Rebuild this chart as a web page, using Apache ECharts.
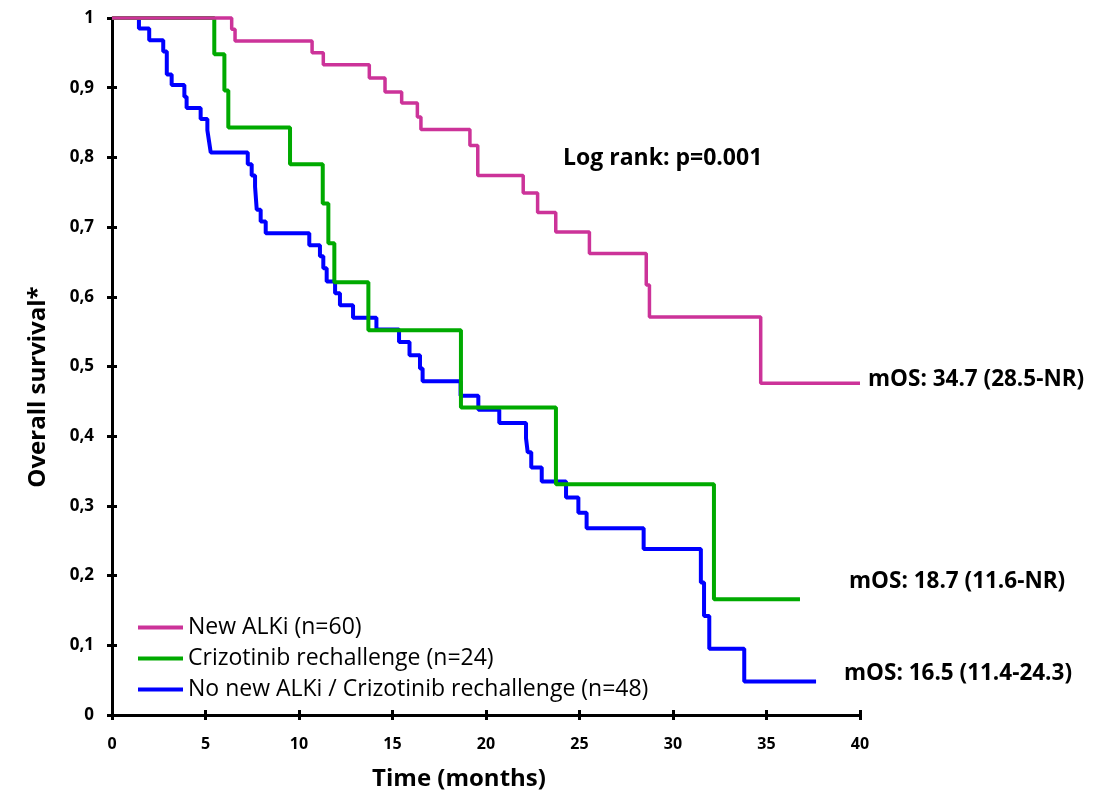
<!DOCTYPE html>
<html>
<head>
<meta charset="utf-8">
<script src="https://cdn.jsdelivr.net/npm/echarts@6/dist/echarts.min.js"></script>
<style>
html, body { margin: 0; padding: 0; background: #fff; }
#km_chart { width: 1094px; height: 795px; }
</style>
</head>
<body>
<div id="km_chart"></div>
<script>
// series names (legend order)
const seriesNames = [
  'New ALKi (n=60)',
  'Crizotinib rechallenge (n=24)',
  'No new ALKi / Crizotinib rechallenge (n=48)'
]

// New ALKi: month of each drop and survival after it
const newAlkiTime = [0, 6.40, 6.58, 10.70, 11.30, 13.76, 14.60, 15.49, 16.33, 16.52, 19.14, 19.56, 21.99, 22.76, 23.73, 25.53, 28.57, 28.74, 34.69, 40]
const newAlkiSurv = [1, 0.984, 0.967, 0.950, 0.933, 0.914, 0.894, 0.878, 0.858, 0.840, 0.817, 0.774, 0.749, 0.721, 0.693, 0.662, 0.617, 0.571, 0.476, 0.476]

// Crizotinib rechallenge
const crizoTime = [0, 5.47, 6.01, 6.22, 9.52, 11.27, 11.57, 11.89, 13.71, 18.66, 23.74, 32.19, 36.79]
const crizoSurv = [1, 0.948, 0.896, 0.843, 0.790, 0.734, 0.677, 0.621, 0.552, 0.441, 0.331, 0.166, 0.166]

// No new ALKi / Crizotinib rechallenge
const noNewTime = [0, 1.44, 1.99, 2.74, 2.93, 3.19, 3.87, 3.99, 4.74, 5.10, 5.19, 5.28, 7.26, 7.47, 7.65, 7.74, 7.95, 8.22, 10.55, 11.12,
  11.30, 11.48, 11.93, 12.19, 12.89, 14.14, 15.35, 15.91, 16.47, 16.61, 18.64, 19.59, 20.71, 22.14, 22.23, 22.42, 22.98, 24.28, 24.94, 25.38,
  28.43, 31.49, 31.66, 31.94, 33.81, 37.65]
const noNewSurv = [1, 0.985, 0.968, 0.952, 0.919, 0.904, 0.887, 0.871, 0.855, 0.839, 0.823, 0.807, 0.790, 0.774, 0.758, 0.725, 0.708, 0.691, 0.674, 0.658,
  0.641, 0.622, 0.605, 0.588, 0.570, 0.553, 0.535, 0.516, 0.497, 0.479, 0.458, 0.438, 0.419, 0.397, 0.377, 0.355, 0.335, 0.312, 0.290, 0.268,
  0.238, 0.190, 0.142, 0.095, 0.048, 0.048]

// annotation texts
const logRankText = 'Log rank: p=0.001'
const mosTexts = ['mOS: 34.7 (28.5-NR)', 'mOS: 18.7 (11.6-NR)', 'mOS: 16.5 (11.4-24.3)']

const colors = ['#CC3399', '#00AA00', '#0000FF']
const FONT = '"Open Sans", Lato, sans-serif'

const zip = (t, s) => t.map((v, i) => [v, s[i]])

const stepSeries = (name, data, color, width, z) => ({
  name: name,
  type: 'line',
  step: 'end',
  showSymbol: false,
  symbol: 'none',
  clip: false,
  z: z,
  lineStyle: { color: color, width: width },
  itemStyle: { color: color },
  data: data
})

const myChart = echarts.init(document.getElementById('km_chart'))

const axisX = {
  type: 'value',
  min: 0,
  max: 40,
  interval: 5,
  splitLine: { show: false }
}
const axisY = {
  type: 'value',
  min: 0,
  max: 1,
  interval: 0.1,
  splitLine: { show: false }
}

const myOption = {
  backgroundColor: '#fff',
  animation: false,

  grid: { left: 112, right: 234, top: 18, bottom: 80 },

  legend: {
    data: seriesNames,
    orient: 'vertical',
    left: 133,
    top: 611,
    icon: 'rect',
    itemWidth: 45,
    itemHeight: 4,
    itemGap: 8,
    textStyle: { color: '#000', fontSize: 23, fontFamily: FONT }
  },

  xAxis: [
    Object.assign({}, axisX, {
      position: 'bottom',
      axisLine: { lineStyle: { color: '#000', width: 3 } },
      axisTick: { show: true, length: 5, lineStyle: { color: '#000', width: 3 } },
      axisLabel: { color: '#000', fontSize: 16, fontWeight: 'bold', fontFamily: FONT, margin: 21 }
    }),
    // second axis only to draw the inner half of the ticks
    Object.assign({}, axisX, {
      position: 'bottom',
      offset: 0,
      axisLine: { show: false },
      axisTick: { show: true, inside: true, length: 5, lineStyle: { color: '#000', width: 3 } },
      axisLabel: { show: false }
    })
  ],

  yAxis: [
    Object.assign({}, axisY, {
      position: 'left',
      axisLine: { lineStyle: { color: '#000', width: 3 } },
      axisTick: { show: true, length: 5, lineStyle: { color: '#000', width: 3 } },
      axisLabel: {
        color: '#000', fontSize: 17, fontWeight: 'bold', fontFamily: FONT, margin: 18,
        formatter: (v) => (v === 0 || v === 1) ? String(v) : v.toFixed(1).replace('.', ',')
      }
    }),
    Object.assign({}, axisY, {
      position: 'left',
      offset: 0,
      axisLine: { show: false },
      axisTick: { show: true, inside: true, length: 5, lineStyle: { color: '#000', width: 3 } },
      axisLabel: { show: false }
    })
  ],

  graphic: [
    {
      type: 'text', x: 459, y: 779,
      style: { text: 'Time (months)', fill: '#000', font: 'bold 24px ' + FONT, align: 'center', verticalAlign: 'middle' }
    },
    {
      type: 'text', x: 38, y: 387, rotation: Math.PI / 2,
      style: { text: 'Overall survival*', fill: '#000', font: 'bold 24px ' + FONT, align: 'center', verticalAlign: 'middle' }
    },
    {
      type: 'text', x: 563, y: 158,
      style: { text: logRankText, fill: '#000', font: 'bold 23px ' + FONT, align: 'left', verticalAlign: 'middle' }
    },
    {
      type: 'text', x: 868, y: 380,
      style: { text: mosTexts[0], fill: '#000', font: 'bold 22.5px ' + FONT, align: 'left', verticalAlign: 'middle' }
    },
    {
      type: 'text', x: 849, y: 582,
      style: { text: mosTexts[1], fill: '#000', font: 'bold 22.5px ' + FONT, align: 'left', verticalAlign: 'middle' }
    },
    {
      type: 'text', x: 844, y: 674,
      style: { text: mosTexts[2], fill: '#000', font: 'bold 22.5px ' + FONT, align: 'left', verticalAlign: 'middle' }
    }
  ],

  // draw order: blue under green under pink
  series: [
    stepSeries(seriesNames[2], zip(noNewTime, noNewSurv), colors[2], 4, 2),
    stepSeries(seriesNames[1], zip(crizoTime, crizoSurv), colors[1], 4, 3),
    stepSeries(seriesNames[0], zip(newAlkiTime, newAlkiSurv), colors[0], 3.5, 4)
  ]
}
myChart.setOption(myOption)
</script>
</body>
</html>
